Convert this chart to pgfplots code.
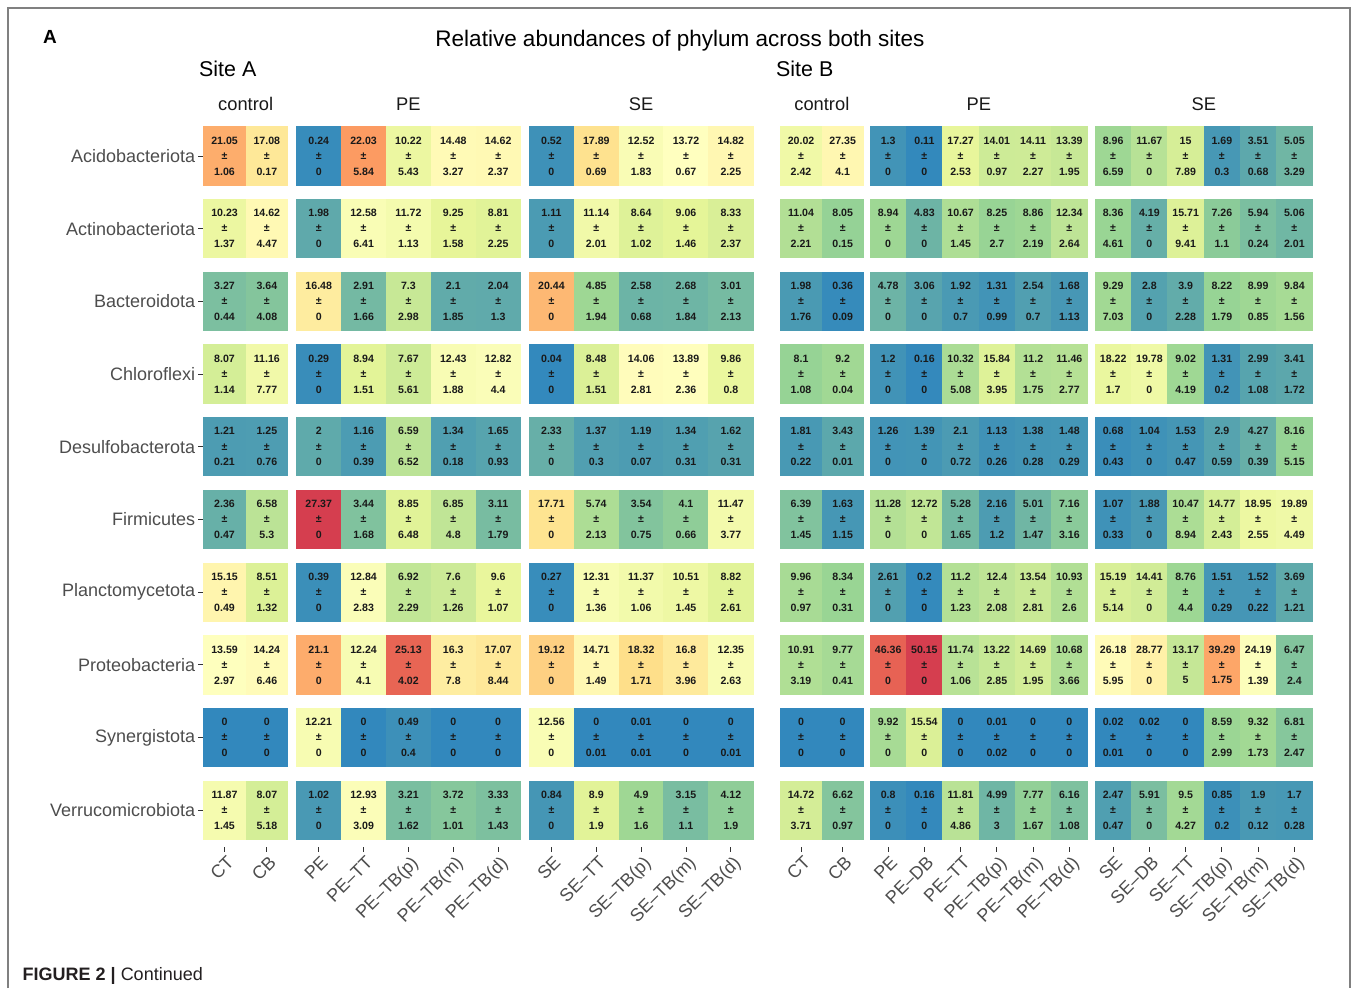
\documentclass[border=0pt]{standalone}
\usepackage{pgfplots}
\pgfplotsset{compat=1.18}
\usepackage{pgfplotstable}
\usepackage{fontspec}
\setmainfont{Liberation Sans}

\definecolor{axtext}{HTML}{4D4D4D}
\definecolor{tickcol}{HTML}{333333}
\definecolor{framecol}{HTML}{808080}
\definecolor{captext}{HTML}{231F20}

\newlength\tilew
\newlength\tileh
\setlength\tileh{59.3pt}
\pgfdeclareplotmark{tile}{%
  \pgfpathrectangle{\pgfpoint{-0.5\tilew}{-0.5\tileh}}{\pgfpoint{\tilew}{\tileh}}%
  \pgfusepathqfill}
\pgfdeclareplotmark{empty}{}

% ---------------- Site A ----------------
\pgfplotstableread{
y m1 s1 m2 s2
10 21.05 1.06 17.08 0.17
9 10.23 1.37 14.62 4.47
8 3.27 0.44 3.64 4.08
7 8.07 1.14 11.16 7.77
6 1.21 0.21 1.25 0.76
5 2.36 0.47 6.58 5.3
4 15.15 0.49 8.51 1.32
3 13.59 2.97 14.24 6.46
2 0 0 0 0
1 11.87 1.45 8.07 5.18
}\Actrl

\pgfplotstableread{
y m1 s1 m2 s2 m3 s3 m4 s4 m5 s5
10 0.24 0 22.03 5.84 10.22 5.43 14.48 3.27 14.62 2.37
9 1.98 0 12.58 6.41 11.72 1.13 9.25 1.58 8.81 2.25
8 16.48 0 2.91 1.66 7.3 2.98 2.1 1.85 2.04 1.3
7 0.29 0 8.94 1.51 7.67 5.61 12.43 1.88 12.82 4.4
6 2 0 1.16 0.39 6.59 6.52 1.34 0.18 1.65 0.93
5 27.37 0 3.44 1.68 8.85 6.48 6.85 4.8 3.11 1.79
4 0.39 0 12.84 2.83 6.92 2.29 7.6 1.26 9.6 1.07
3 21.1 0 12.24 4.1 25.13 4.02 16.3 7.8 17.07 8.44
2 12.21 0 0 0 0.49 0.4 0 0 0 0
1 1.02 0 12.93 3.09 3.21 1.62 3.72 1.01 3.33 1.43
}\APE

\pgfplotstableread{
y m1 s1 m2 s2 m3 s3 m4 s4 m5 s5
10 0.52 0 17.89 0.69 12.52 1.83 13.72 0.67 14.82 2.25
9 1.11 0 11.14 2.01 8.64 1.02 9.06 1.46 8.33 2.37
8 20.44 0 4.85 1.94 2.58 0.68 2.68 1.84 3.01 2.13
7 0.04 0 8.48 1.51 14.06 2.81 13.89 2.36 9.86 0.8
6 2.33 0 1.37 0.3 1.19 0.07 1.34 0.31 1.62 0.31
5 17.71 0 5.74 2.13 3.54 0.75 4.1 0.66 11.47 3.77
4 0.27 0 12.31 1.36 11.37 1.06 10.51 1.45 8.82 2.61
3 19.12 0 14.71 1.49 18.32 1.71 16.8 3.96 12.35 2.63
2 12.56 0 0 0.01 0.01 0.01 0 0 0 0.01
1 0.84 0 8.9 1.9 4.9 1.6 3.15 1.1 4.12 1.9
}\ASE

% ---------------- Site B ----------------
\pgfplotstableread{
y m1 s1 m2 s2
10 20.02 2.42 27.35 4.1
9 11.04 2.21 8.05 0.15
8 1.98 1.76 0.36 0.09
7 8.1 1.08 9.2 0.04
6 1.81 0.22 3.43 0.01
5 6.39 1.45 1.63 1.15
4 9.96 0.97 8.34 0.31
3 10.91 3.19 9.77 0.41
2 0 0 0 0
1 14.72 3.71 6.62 0.97
}\Bctrl

\pgfplotstableread{
y m1 s1 m2 s2 m3 s3 m4 s4 m5 s5 m6 s6
10 1.3 0 0.11 0 17.27 2.53 14.01 0.97 14.11 2.27 13.39 1.95
9 8.94 0 4.83 0 10.67 1.45 8.25 2.7 8.86 2.19 12.34 2.64
8 4.78 0 3.06 0 1.92 0.7 1.31 0.99 2.54 0.7 1.68 1.13
7 1.2 0 0.16 0 10.32 5.08 15.84 3.95 11.2 1.75 11.46 2.77
6 1.26 0 1.39 0 2.1 0.72 1.13 0.26 1.38 0.28 1.48 0.29
5 11.28 0 12.72 0 5.28 1.65 2.16 1.2 5.01 1.47 7.16 3.16
4 2.61 0 0.2 0 11.2 1.23 12.4 2.08 13.54 2.81 10.93 2.6
3 46.36 0 50.15 0 11.74 1.06 13.22 2.85 14.69 1.95 10.68 3.66
2 9.92 0 15.54 0 0 0 0.01 0.02 0 0 0 0
1 0.8 0 0.16 0 11.81 4.86 4.99 3 7.77 1.67 6.16 1.08
}\BPE

\pgfplotstableread{
y m1 s1 m2 s2 m3 s3 m4 s4 m5 s5 m6 s6
10 8.96 6.59 11.67 0 15 7.89 1.69 0.3 3.51 0.68 5.05 3.29
9 8.36 4.61 4.19 0 15.71 9.41 7.26 1.1 5.94 0.24 5.06 2.01
8 9.29 7.03 2.8 0 3.9 2.28 8.22 1.79 8.99 0.85 9.84 1.56
7 18.22 1.7 19.78 0 9.02 4.19 1.31 0.2 2.99 1.08 3.41 1.72
6 0.68 0.43 1.04 0 1.53 0.47 2.9 0.59 4.27 0.39 8.16 5.15
5 1.07 0.33 1.88 0 10.47 8.94 14.77 2.43 18.95 2.55 19.89 4.49
4 15.19 5.14 14.41 0 8.76 4.4 1.51 0.29 1.52 0.22 3.69 1.21
3 26.18 5.95 28.77 0 13.17 5 39.29 1.75 24.19 1.39 6.47 2.4
2 0.02 0.01 0.02 0 0 0 8.59 2.99 9.32 1.73 6.81 2.47
1 2.47 0.47 5.91 0 9.5 4.27 0.85 0.2 1.9 0.12 1.7 0.28
}\BSE

\pgfplotsset{
  colormap={spectralr}{rgb255=(50,136,189) rgb255=(153,213,148) rgb255=(230,245,152) rgb255=(255,255,191) rgb255=(254,224,139) rgb255=(252,141,89) rgb255=(213,62,79)},
  panel/.style={
    scale only axis, height=727pt,
    ymin=0.5, ymax=10.5, xmin=0.5,
    axis x line*=bottom, axis y line*=left,
    axis line style={draw=none},
    tick align=outside, major tick length=5pt,
    tick style={draw=tickcol, line width=0.9pt},
    ytick=\empty, xtick={1,...,6},
    xticklabel style={rotate=45, anchor=north east, font=\fontsize{18}{18}\selectfont, text=axtext, inner sep=1pt, yshift=-2pt},
    colormap name=spectralr,
    title style={font=\fontsize{18.3}{18.3}\selectfont, text=black!90, anchor=center, at={(0.5,1)}, yshift=9.8pt},
    clip=false,
  },
  tiles/.style={
    scatter, only marks, mark=tile,
    scatter/use mapped color={draw=mapped color, fill=mapped color},
    point meta=explicit,
  },
  txt/.style={
    only marks, mark=empty,
    point meta=explicit symbolic,
    nodes near coords={\pgfplotspointmeta},
    nodes near coords align=center,
    every node near coord/.append style={font=\bfseries\fontsize{10.6}{10.6}\selectfont, text=black!90, inner sep=0pt, yshift=#1},
  },
  pm/.style={
    only marks, mark=empty,
    point meta=explicit symbolic,
    nodes near coords={±},
    nodes near coords align=center,
    every node near coord/.append style={font=\bfseries\fontsize{10.6}{10.6}\selectfont, text=black!90, inner sep=0pt},
  },
}
% one panel: #1 = columns, #2 = table
\newcommand\panelplots[2]{%
  \pgfplotsinvokeforeach{#1}{\addplot[tiles] table[x expr=##1, y=y, meta=m##1] {#2};}
  \pgfplotsinvokeforeach{#1}{%
    \addplot[txt=15.5pt] table[x expr=##1, y=y, meta=m##1] {#2};
    \addplot[pm] table[x expr=##1, y=y, meta=m##1] {#2};
    \addplot[txt=-15.5pt] table[x expr=##1, y=y, meta=s##1] {#2};
  }%
}

\begin{document}
\begin{tikzpicture}
\useasboundingbox (0pt,0pt) rectangle (1357pt,988pt);
\draw[framecol, line width=1.3pt] (8pt,0pt) -- (8pt,980pt) -- (1350pt,980pt) -- (1350pt,0pt);
\node[font=\bfseries\fontsize{19}{19}\selectfont] at (50pt,951pt) {A};
\node[font=\fontsize{22.5}{22.5}\selectfont] at (680pt,947pt) {Relative abundances of phylum across both sites};
\node[anchor=west, inner sep=0pt, font=\fontsize{21.4}{21.4}\selectfont] at (199pt,919pt) {Site A};
\node[anchor=west, inner sep=0pt, font=\fontsize{21.4}{21.4}\selectfont] at (776pt,919pt) {Site B};
\node[anchor=base west, inner sep=0pt, font=\fontsize{18}{18}\selectfont, text=captext] at (22.5pt,8pt) {\textbf{FIGURE 2 |} Continued};

% Site A control
\setlength\tilew{42.7pt}
\begin{axis}[panel, at={(203.4pt,141.35pt)}, anchor=south west, width=84.6pt, xmax=2.5,
  title=control, xticklabels={CT,CB},
  ytick={1,...,10},
  yticklabels={Verrucomicrobiota,Synergistota,Proteobacteria,Planctomycetota,Firmicutes,Desulfobacterota,Chloroflexi,Bacteroidota,Actinobacteriota,Acidobacteriota},
  yticklabel style={font=\fontsize{18}{18}\selectfont, text=axtext, anchor=east, inner sep=0pt, xshift=-3pt},
  point meta min=0, point meta max=27.37]
\panelplots{1,2}{\Actrl}
\end{axis}

% Site A PE
\setlength\tilew{45.3pt}
\begin{axis}[panel, at={(296.3pt,141.35pt)}, anchor=south west, width=224.3pt, xmax=5.5,
  title=PE, xticklabels={PE,PE–TT,PE–TB(p),PE–TB(m),PE–TB(d)},
  point meta min=0, point meta max=27.37]
\panelplots{1,...,5}{\APE}
\end{axis}

% Site A SE
\setlength\tilew{45.3pt}
\begin{axis}[panel, at={(529.0pt,141.35pt)}, anchor=south west, width=224.3pt, xmax=5.5,
  title=SE, xticklabels={SE,SE–TT,SE–TB(p),SE–TB(m),SE–TB(d)},
  point meta min=0, point meta max=27.37]
\panelplots{1,...,5}{\ASE}
\end{axis}

% Site B control
\setlength\tilew{42.05pt}
\begin{axis}[panel, at={(780.2pt,141.35pt)}, anchor=south west, width=83.3pt, xmax=2.5,
  title=control, xticklabels={CT,CB},
  point meta min=0, point meta max=50.15]
\panelplots{1,2}{\Bctrl}
\end{axis}

% Site B PE
\setlength\tilew{36.65pt}
\begin{axis}[panel, at={(870.0pt,141.35pt)}, anchor=south west, width=217.5pt, xmax=6.5,
  title=PE, xticklabels={PE,PE–DB,PE–TT,PE–TB(p),PE–TB(m),PE–TB(d)},
  point meta min=0, point meta max=50.15]
\panelplots{1,...,6}{\BPE}
\end{axis}

% Site B SE
\setlength\tilew{36.65pt}
\begin{axis}[panel, at={(1095.0pt,141.35pt)}, anchor=south west, width=217.5pt, xmax=6.5,
  title=SE, xticklabels={SE,SE–DB,SE–TT,SE–TB(p),SE–TB(m),SE–TB(d)},
  point meta min=0, point meta max=50.15]
\panelplots{1,...,6}{\BSE}
\end{axis}
\end{tikzpicture}
\end{document}
